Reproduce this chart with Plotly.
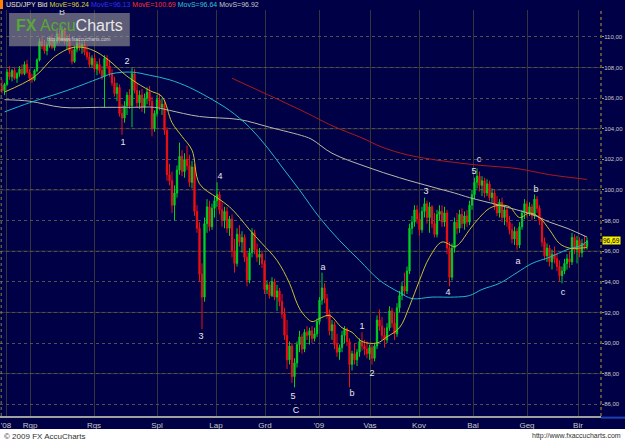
import plotly.graph_objects as go

# ---------------- data ----------------
opens = [106.8, 106.5, 106.9, 107.7, 107.4, 107.8, 107.3, 107.6, 107.9, 107.6,
         108.2, 107.7, 107.3, 107.2, 107.8, 108.5, 109.7, 109.4, 109.1, 109.5,
         109.8, 109.3, 109.7, 110.2, 109.8, 110.4, 109.7, 109.9, 109.1, 108.4,
         109.2, 109.6, 109.3, 109.5, 109.0, 108.7, 108.2, 108.6, 107.9, 108.2,
         107.8, 107.4, 108.6, 108.1, 107.6, 107.0, 106.3, 106.7, 105.0, 104.7,
         105.5, 106.2, 105.5, 107.6, 106.5, 105.7, 106.2, 105.4, 106.0, 106.4,
         105.8, 104.0, 105.0, 105.9, 105.4, 105.6, 103.9, 101.0, 100.6, 99.0,
         99.8, 101.3, 102.2, 101.2, 102.0, 101.6, 100.5, 101.5, 98.6, 97.5,
         94.5, 93.0, 97.8, 98.9, 97.6, 98.8, 99.3, 99.7, 98.7, 98.0,
         98.6, 97.5, 98.1, 96.0, 95.2, 97.1, 96.6, 96.9, 95.6, 94.1,
         95.9, 97.2, 96.1, 95.6, 95.8, 95.2, 93.5, 93.8, 93.1, 94.0,
         93.0, 93.4, 92.7, 91.9, 90.5, 88.9, 89.8, 87.8, 88.7, 89.9,
         90.4, 89.6, 90.7, 90.5, 90.8, 90.3, 90.6, 91.4, 92.8, 93.6,
         92.9, 91.9, 90.8, 91.2, 89.9, 89.4, 89.7, 90.5, 90.9, 90.1,
         88.6, 89.3, 88.9, 89.4, 90.1, 89.8, 89.6, 89.3, 89.7, 89.0,
         89.8, 91.5, 91.1, 90.5, 90.2, 91.0, 92.1, 91.3, 90.6, 92.3,
         93.1, 93.7, 93.4, 94.7, 97.5, 97.9, 98.7, 98.1, 97.4, 98.6,
         99.1, 98.2, 98.9, 97.8, 97.1, 98.4, 98.6, 97.9, 98.5, 96.2,
         94.3, 96.2, 97.9, 97.5, 98.4, 97.8, 98.3, 97.9, 99.0, 99.7,
         100.5, 100.9, 100.3, 100.6, 99.8, 100.4, 99.5, 99.8, 99.0, 98.5,
         99.2, 98.2, 98.7, 97.9, 97.4, 96.8, 97.3, 96.4, 97.6, 98.5,
         99.1, 98.5, 98.9, 98.3, 99.4, 98.8, 98.0, 96.6, 95.7, 96.2,
         95.3, 95.8, 95.5, 95.0, 94.4, 94.7, 95.2, 95.5, 95.3, 96.9,
         96.1, 96.7, 95.9, 96.5, 96.3]

highs = [107.2, 107.0, 107.9, 108.1, 107.9, 108.0, 107.7, 108.1, 108.2, 108.4,
         108.5, 107.9, 107.6, 107.9, 108.6, 109.9, 110.1, 109.8, 109.7, 110.0,
         110.2, 109.9, 110.4, 110.5, 110.7, 110.6, 110.1, 110.2, 109.3, 109.4,
         109.8, 109.9, 109.7, 109.8, 109.4, 109.0, 108.8, 108.9, 108.4, 108.6,
         108.1, 108.8, 108.8, 108.5, 107.9, 107.4, 107.0, 106.9, 105.6, 105.8,
         106.4, 106.6, 108.0, 107.9, 107.0, 106.5, 106.6, 106.3, 106.7, 106.8,
         106.1, 105.2, 106.2, 106.3, 106.0, 105.9, 104.1, 101.7, 101.2, 100.3,
         101.6, 103.1, 102.6, 102.4, 102.9, 102.3, 101.9, 101.7, 99.0, 97.9,
         95.2, 98.2, 99.4, 99.3, 99.1, 99.6, 100.5, 99.9, 99.2, 98.9,
         98.9, 98.3, 98.4, 96.8, 97.5, 97.7, 97.3, 97.1, 96.0, 96.2,
         97.5, 97.4, 96.5, 96.2, 96.0, 95.4, 94.1, 94.0, 94.3, 94.2,
         93.8, 93.6, 93.2, 92.3, 91.5, 90.1, 90.0, 89.0, 90.1, 90.8,
         90.6, 90.9, 91.1, 91.0, 91.1, 91.0, 91.6, 93.0, 94.6, 93.9,
         93.2, 92.2, 91.5, 91.4, 90.6, 89.9, 90.8, 91.1, 91.0, 90.3,
         89.5, 90.0, 89.6, 90.3, 90.7, 90.2, 90.1, 89.9, 89.9, 90.0,
         91.8, 92.2, 91.7, 91.0, 91.3, 92.4, 92.3, 92.0, 92.6, 93.4,
         94.0, 94.6, 95.0, 97.8, 98.3, 99.0, 99.0, 98.5, 98.9, 99.5,
         99.3, 99.2, 99.0, 98.5, 98.7, 99.0, 99.0, 98.9, 98.7, 96.6,
         96.5, 98.2, 98.5, 98.7, 98.8, 98.6, 98.7, 99.3, 100.0, 100.8,
         101.4, 101.2, 100.9, 100.8, 100.7, 100.6, 100.1, 100.0, 99.6, 99.4,
         99.5, 99.0, 98.9, 98.3, 97.8, 97.6, 97.5, 97.9, 98.7, 99.4,
         99.3, 99.2, 99.1, 99.7, 99.6, 99.0, 98.2, 96.9, 96.5, 96.4,
         96.1, 96.3, 95.9, 95.4, 95.0, 95.5, 95.8, 96.0, 97.2, 97.1,
         97.0, 96.9, 96.8, 97.0, 96.9]

lows = [106.3, 106.2, 106.8, 107.2, 107.1, 107.2, 107.0, 107.4, 107.5, 107.5,
        107.6, 107.1, 107.0, 107.1, 107.7, 108.4, 109.2, 108.9, 108.8, 109.3,
        109.2, 109.1, 109.5, 109.6, 109.7, 109.5, 109.2, 108.9, 108.2, 108.3,
        109.0, 109.1, 108.9, 108.8, 108.5, 108.0, 108.0, 107.7, 107.5, 107.6,
        107.2, 105.4, 107.9, 107.4, 106.8, 106.1, 105.8, 104.8, 103.6, 104.4,
        104.9, 105.3, 104.1, 106.3, 105.4, 105.3, 105.1, 105.0, 105.6, 105.5,
        103.5, 103.8, 104.8, 105.2, 104.9, 103.6, 100.6, 100.3, 98.5, 98.0,
        99.5, 101.0, 100.9, 100.8, 101.3, 100.2, 100.1, 98.3, 97.2, 94.0,
        90.9, 92.7, 97.2, 97.3, 97.4, 98.2, 98.9, 98.4, 97.6, 97.5,
        97.2, 97.0, 95.6, 94.6, 95.0, 96.3, 95.9, 95.3, 93.7, 93.9,
        95.6, 95.8, 95.3, 95.1, 94.9, 93.2, 93.2, 92.9, 93.0, 92.8,
        92.1, 92.4, 91.6, 90.2, 88.3, 88.6, 87.4, 87.1, 88.4, 89.4,
        89.3, 89.4, 90.2, 89.9, 90.0, 90.1, 90.4, 91.2, 92.5, 92.6,
        91.6, 90.5, 90.2, 89.6, 89.1, 88.9, 89.4, 90.0, 89.8, 87.1,
        88.2, 88.6, 88.5, 89.1, 89.5, 89.2, 89.0, 88.9, 88.6, 88.8,
        89.6, 90.8, 90.2, 89.7, 90.0, 90.8, 91.0, 90.2, 90.4, 92.0,
        92.8, 93.1, 93.2, 94.5, 97.1, 97.6, 97.8, 97.0, 97.2, 98.2,
        97.8, 97.2, 97.5, 96.9, 96.9, 98.0, 97.6, 97.6, 95.8, 93.7,
        94.1, 95.9, 97.1, 97.2, 97.5, 97.4, 97.6, 97.7, 98.7, 99.4,
        100.1, 99.9, 99.6, 99.5, 99.6, 99.3, 99.1, 98.7, 98.3, 98.2,
        97.9, 97.7, 97.6, 97.1, 96.5, 96.4, 96.1, 96.2, 97.4, 98.1,
        98.2, 98.3, 98.0, 98.1, 98.5, 97.7, 96.3, 95.4, 95.3, 95.0,
        94.8, 95.2, 94.7, 94.0, 93.9, 94.5, 94.8, 94.9, 95.1, 95.8,
        95.2, 95.6, 95.6, 96.1, 96.1]

closes = [106.5, 106.9, 107.7, 107.4, 107.8, 107.3, 107.6, 107.9, 107.6, 108.2,
          107.7, 107.3, 107.2, 107.8, 108.5, 109.7, 109.4, 109.1, 109.5, 109.8,
          109.3, 109.7, 110.2, 109.8, 110.4, 109.7, 109.9, 109.1, 108.4, 109.2,
          109.6, 109.3, 109.5, 109.0, 108.7, 108.2, 108.6, 107.9, 108.2, 107.8,
          107.4, 108.6, 108.1, 107.6, 107.0, 106.3, 106.7, 105.0, 104.7, 105.5,
          106.2, 105.5, 107.6, 106.5, 105.7, 106.2, 105.4, 106.0, 106.4, 105.8,
          104.0, 105.0, 105.9, 105.4, 105.6, 103.9, 101.0, 100.6, 99.0, 99.8,
          101.3, 102.2, 101.2, 102.0, 101.6, 100.5, 101.5, 98.6, 97.5, 94.5,
          93.0, 97.8, 98.9, 97.6, 98.8, 99.3, 99.7, 98.7, 98.0, 98.6,
          97.5, 98.1, 96.0, 95.2, 97.1, 96.6, 96.9, 95.6, 94.1, 95.9,
          97.2, 96.1, 95.6, 95.8, 95.2, 93.5, 93.8, 93.1, 94.0, 93.0,
          93.4, 92.7, 91.9, 90.5, 88.9, 89.8, 87.8, 88.7, 89.9, 90.4,
          89.6, 90.7, 90.5, 90.8, 90.3, 90.6, 91.4, 92.8, 93.6, 92.9,
          91.9, 90.8, 91.2, 89.9, 89.4, 89.7, 90.5, 90.9, 90.1, 88.6,
          89.3, 88.9, 89.4, 90.1, 89.8, 89.6, 89.3, 89.7, 89.0, 89.8,
          91.5, 91.1, 90.5, 90.2, 91.0, 92.1, 91.3, 90.6, 92.3, 93.1,
          93.7, 93.4, 94.7, 97.5, 97.9, 98.7, 98.1, 97.4, 98.6, 99.1,
          98.2, 98.9, 97.8, 97.1, 98.4, 98.6, 97.9, 98.5, 96.2, 94.3,
          96.2, 97.9, 97.5, 98.4, 97.8, 98.3, 97.9, 99.0, 99.7, 100.5,
          100.9, 100.3, 100.6, 99.8, 100.4, 99.5, 99.8, 99.0, 98.5, 99.2,
          98.2, 98.7, 97.9, 97.4, 96.8, 97.3, 96.4, 97.6, 98.5, 99.1,
          98.5, 98.9, 98.3, 99.4, 98.8, 98.0, 96.6, 95.7, 96.2, 95.3,
          95.8, 95.5, 95.0, 94.4, 94.7, 95.2, 95.5, 95.3, 96.9, 96.1,
          96.7, 95.9, 96.5, 96.3, 96.69]

bars = list(range(len(closes)))

# moving averages (bar index, value)
ema_fast_idx = [1, 13, 21, 28, 33, 38, 44, 48, 52, 59, 64, 68, 72, 76, 79, 86, 91, 95, 99,
                104, 110, 115, 118, 120, 124, 127, 131, 136, 140, 144, 150, 154, 159, 163,
                167, 171, 176, 181, 183, 187, 191, 195, 199, 203, 207, 211, 215, 219, 223,
                227, 231, 234]
ema_fast_val = [106.4, 107.4, 108.7, 109.3, 109.3, 109.0, 108.3, 107.7, 107.2, 106.5, 106.1,
                104.4, 103.5, 102.6, 100.4, 99.5, 98.9, 98.2, 97.4, 96.5, 95.4, 93.9, 92.6,
                92.0, 91.4, 91.6, 91.8, 91.0, 90.7, 90.1, 90.0, 90.4, 91.0, 92.4, 94.1, 95.6,
                96.6, 96.3, 96.5, 97.4, 98.2, 98.8, 99.0, 98.9, 98.2, 98.5, 98.2, 97.4, 96.5,
                96.2, 96.2, 96.24]

sma_mid_idx = [1, 11, 26, 39, 44, 52, 59, 67, 75, 82, 91, 99, 106, 112, 119, 127, 135, 143,
               151, 159, 164, 172, 181, 187, 192, 199, 206, 212, 219, 226, 232, 234]
sma_mid_val = [105.1, 105.7, 106.5, 107.3, 107.6, 107.7, 107.5, 107.2, 106.7, 106.1, 105.2,
               104.1, 102.8, 101.5, 100.0, 98.2, 96.7, 95.4, 94.1, 93.3, 92.9, 93.0, 93.0,
               93.1, 93.5, 93.9, 94.6, 95.2, 95.6, 96.1, 96.4, 96.64]

sma_long_idx = [1, 11, 24, 39, 52, 61, 67, 79, 95, 107, 121, 124, 132, 146, 159, 172, 181,
                187, 199, 212, 219, 226, 234]
sma_long_val = [105.9, 105.8, 105.4, 105.4, 105.4, 105.4, 105.2, 104.8, 104.6, 104.1, 103.5,
                103.3, 102.4, 101.5, 100.8, 100.2, 99.8, 99.5, 99.0, 98.4, 97.9, 97.5, 96.92]

ema_long_idx = [92, 121, 132, 144, 152, 162, 172, 181, 192, 206, 219, 234]
ema_long_val = [107.3, 105.1, 104.2, 103.4, 102.8, 102.3, 102.0, 101.8, 101.6, 101.4, 101.0,
                100.69]

ema_blue_last = 96.13

month_pos = [1.6, 11.2, 36.8, 62.0, 85.6, 105.2, 126.8, 147.2, 166.8, 188.4, 210.0, 230.4]
month_labels = ["'08", "Rgp", "Rgs", "Spl", "Lap", "Grd", "'09", "Vas", "Kov", "Bal", "Geg", "Bir"]

price_ticks = [86, 88, 90, 92, 94, 96, 98, 100, 102, 104, 106, 108, 110]
price_labels = [f"{v:.2f}".replace(".", ",") for v in price_ticks]
solid_grid = [88, 92, 96, 100, 104, 108]

wave_text = ["B", "2", "1", "3", "4", "5", "C", "a", "b", "1", "2", "3", "4", "5", "c",
             "a", "b", "c"]
wave_idx = [24, 50, 48.4, 79.6, 87.2, 116.4, 117.6, 128.4, 140, 144, 148, 169.6, 178.4,
            188.8, 190.8, 206.4, 213.6, 224.4]
wave_val = [111.6, 108.4, 103.1, 90.4, 100.85, 86.5, 85.6, 94.9, 86.7, 91.05, 88.0, 99.87,
            93.27, 101.2, 102.0, 95.3, 100.0, 93.3]

# ---------------- style ----------------
BG = "#000046"
UP = "#00d020"
DOWN = "#f01010"
GRID_SOLID = "#34343a"
GRID_DOT = "#505050"
FONT = "Liberation Sans"

fig = go.Figure()

fig.add_trace(go.Candlestick(
    x=bars, open=opens, high=highs, low=lows, close=closes,
    increasing=dict(line=dict(color=UP, width=1), fillcolor=UP),
    decreasing=dict(line=dict(color=DOWN, width=1), fillcolor=DOWN),
    whiskerwidth=0, showlegend=False, hoverinfo="skip"))

for xi, yv, col in [(sma_long_idx, sma_long_val, "#b8b8a8"),
                    (sma_mid_idx, sma_mid_val, "#20b8c8"),
                    (ema_long_idx, ema_long_val, "#b01818"),
                    (ema_fast_idx, ema_fast_val, "#c8c030")]:
    fig.add_trace(go.Scatter(x=xi, y=yv, mode="lines", line=dict(color=col, width=1, shape="spline"),
                             showlegend=False, hoverinfo="skip"))

fig.add_trace(go.Scatter(x=wave_idx, y=wave_val, mode="text", text=wave_text,
                         textfont=dict(color="#e8e8e8", size=9, family=FONT),
                         showlegend=False, hoverinfo="skip"))

shapes = []
for v in solid_grid:
    shapes.append(dict(type="line", xref="paper", x0=0, x1=1, yref="y", y0=v, y1=v,
                       line=dict(color=GRID_SOLID, width=1), layer="below"))
# right axis dotted line
shapes.append(dict(type="line", xref="paper", x0=1.0, x1=1.0, yref="paper", y0=0, y1=1,
                   line=dict(color="#b8a030", width=1, dash="dot")))
# left edge dotted line
shapes.append(dict(type="line", xref="paper", x0=0.002, x1=0.002, yref="paper", y0=0, y1=1,
                   line=dict(color="#8a8040", width=1, dash="dot")))
# bottom-right blue line
shapes.append(dict(type="line", xref="paper", x0=1.0, x1=1.04, yref="paper", y0=-0.004, y1=-0.004,
                   line=dict(color="#2040b0", width=2)))
# footer white strip
shapes.append(dict(type="rect", xref="paper", x0=-0.01, x1=1.05, yref="paper", y0=-0.032, y1=-0.07,
                   fillcolor="#ffffff", line=dict(width=0)))
# orange marker top-left
shapes.append(dict(type="rect", xref="paper", x0=0, x1=0.005, yref="paper", y0=1.0025, y1=1.0246,
                   fillcolor="#ff8000", line=dict(width=0)))
# watermark box
shapes.append(dict(type="rect", xref="paper", x0=0.015, x1=0.216, yref="paper", y0=0.911, y1=0.9926,
                   fillcolor="rgba(150,150,150,0.62)", line=dict(width=0), layer="above"))

header = (f"<span style='color:#e8e8d0'>USD/JPY Bid </span>"
          f"<span style='color:#d8d040'>MovE={ema_fast_val[-1]:.2f}</span> "
          f"<span style='color:#3030ff'>MovE={ema_blue_last:.2f}</span> "
          f"<span style='color:#ff3030'>MovE={ema_long_val[-1]:.2f}</span> "
          f"<span style='color:#30c8d8'>MovS={sma_mid_val[-1]:.2f}</span> "
          f"<span style='color:#c8c8c8'>MovS={sma_long_val[-1]:.2f}</span>")

annotations = [
    dict(text=header, xref="paper", yref="paper", x=0.006, y=1.0125, xanchor="left", yanchor="middle",
         showarrow=False, font=dict(size=7, family=FONT)),
    dict(text="<b>FX</b> Accu<span style='color:#e8e8e8'>Charts</span>", xref="paper", yref="paper",
         x=0.115, y=0.962, xanchor="center", yanchor="middle", showarrow=False,
         font=dict(size=16, family=FONT, color="#58a838")),
    dict(text="http://www.fxaccucharts.com", xref="paper", yref="paper", x=0.13, y=0.928,
         xanchor="center", yanchor="middle", showarrow=False,
         font=dict(size=5, family=FONT, color="#d0d0d0")),
    dict(text=f"{closes[-1]:.2f}".replace(".", ","), xref="paper", yref="y", x=1.0, y=closes[-1],
         xanchor="left", yanchor="middle", xshift=1, showarrow=False, bgcolor="#f8f000",
         borderpad=0, font=dict(size=6.5, family=FONT, color="#000000")),
    dict(text="© 2009 FX AccuCharts", xref="paper", yref="paper", x=0.003, y=-0.05,
         xanchor="left", yanchor="middle", showarrow=False,
         font=dict(size=8, family=FONT, color="#303030")),
    dict(text="http://www.fxaccucharts.com", xref="paper", yref="paper", x=1.036, y=-0.05,
         xanchor="right", yanchor="middle", showarrow=False,
         font=dict(size=7, family=FONT, color="#303030")),
]

fig.update_layout(
    width=625, height=440,
    margin=dict(l=0, r=24, t=10, b=24),
    paper_bgcolor=BG, plot_bgcolor=BG,
    showlegend=False,
    shapes=shapes, annotations=annotations,
    xaxis=dict(range=[-0.8, 239.6], tickmode="array", tickvals=month_pos, ticktext=month_labels,
               showgrid=True, gridcolor=GRID_SOLID, gridwidth=1, zeroline=False,
               showline=True, linecolor="#a0a0a0", linewidth=2, ticks="",
               tickfont=dict(size=8, family=FONT, color="#c8c8c8"),
               rangeslider=dict(visible=False), fixedrange=True, automargin=False),
    yaxis=dict(side="right", range=[85.23, 111.76], tickmode="array", tickvals=price_ticks,
               ticktext=price_labels, showgrid=True, gridcolor=GRID_DOT, griddash="dot",
               gridwidth=1, zeroline=False, showline=False, ticks="outside", ticklen=2,
               tickcolor="#b8a030", ticklabelstandoff=-1,
               tickfont=dict(size=6, family=FONT, color="#c8c8c8"),
               fixedrange=True, automargin=False),
)

fig.write_html("out.html")
